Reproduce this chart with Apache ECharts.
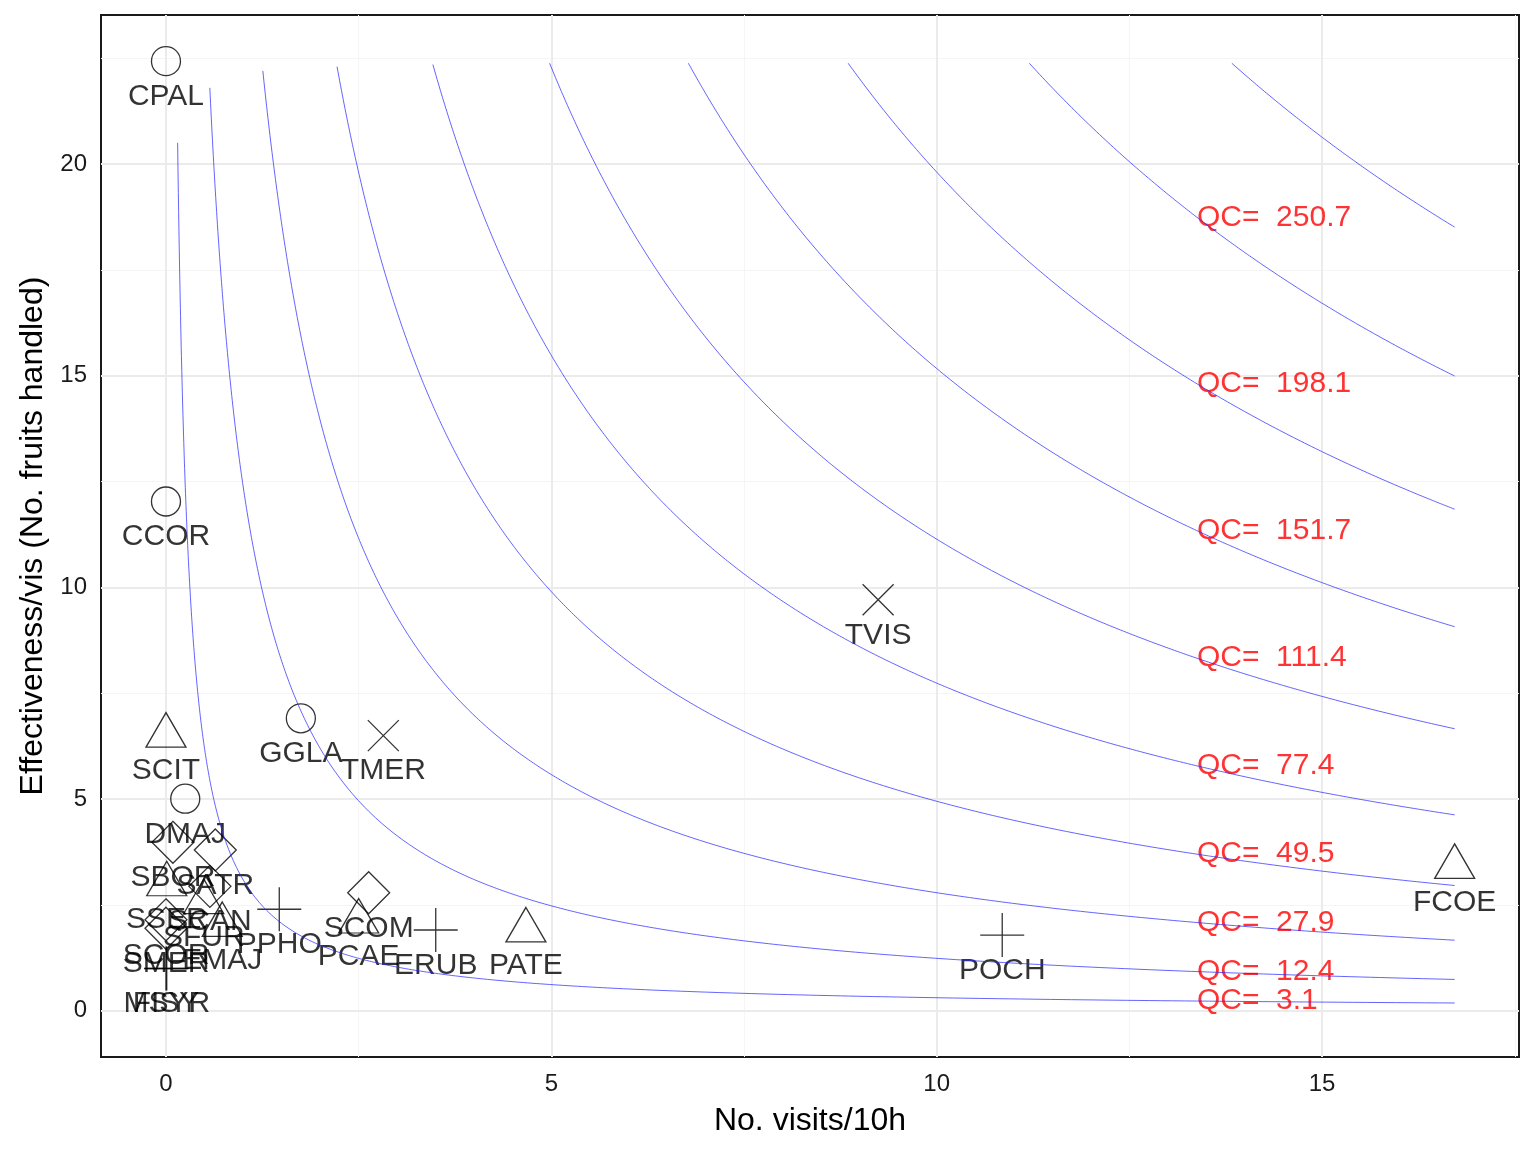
<!DOCTYPE html>
<html><head><meta charset="utf-8">
<script src="https://cdn.jsdelivr.net/npm/echarts@6/dist/echarts.min.js"></script>
<style>html,body{margin:0;padding:0;background:#fff}#c{width:1536px;height:1152px}</style>
</head><body><div id="c"></div><script>
// ---- data ----
const species = ['CPAL','CCOR','SCIT','GGLA','TMER','TVIS','DMAJ','SBOR','SATR','SSER','SCAN','SFUR','PPHO','SCOM','PCAE','ERUB','PATE','POCH','FCOE','SCOR','SMER','EMAJ','MSYR','FISY'];
const visits = [0.0, 0.0, 0.0, 1.75, 2.82, 9.24, 0.25, 0.09, 0.64, 0.01, 0.57, 0.49, 1.47, 2.63, 2.50, 3.50, 4.67, 10.85, 16.72, 0.0, 0.0, 0.73, 0.01, 0.0];
const effectiveness = [22.43, 12.03, 6.50, 6.91, 6.50, 9.71, 5.01, 3.98, 3.80, 2.99, 2.94, 2.57, 2.40, 2.79, 2.11, 1.91, 1.90, 1.79, 3.40, 2.15, 1.95, 2.03, 1.00, 1.00];
const shapes = ['circle','circle','triangle','circle','cross','cross','circle','diamond','diamond','triangle','diamond','triangle','plus','diamond','triangle','plus','triangle','plus','triangle','diamond','diamond','triangle','plus','plus'];
const qcLevels = [3.1, 12.4, 27.9, 49.5, 77.4, 111.4, 151.7, 198.1, 250.7, 309.5];
const curveTop = [20.5, 21.8, 22.2, 22.3, 22.35, 22.38, 22.38, 22.38, 22.38, 22.38];
const qcLabelLevels = [3.1, 12.4, 27.9, 49.5, 77.4, 111.4, 151.7, 198.1, 250.7];
const xTicks = [0, 5, 10, 15];
const yTicks = [0, 5, 10, 15, 20];
const xMinor = [2.5, 7.5, 12.5, 17.5];
const yMinor = [2.5, 7.5, 12.5, 17.5, 22.5];

// ---- derived ----
const xMaxData = Math.max(...visits);
const labelX = 0.8 * xMaxData;
const labelNudge = 0.84;
const FONT = "'Liberation Sans', Arial, sans-serif";

const symbolDefs = {
  circle:   {symbol: 'circle', size: 29, offset: [0, 0]},
  triangle: {symbol: 'triangle', size: [40, 34.5], offset: [0, -5.75]},
  diamond:  {symbol: 'diamond', size: [42, 42], offset: [0, 0]},
  plus:     {symbol: 'path://M0,-1L0,1M-1,0L1,0', size: 44, offset: [0, 0]},
  cross:    {symbol: 'path://M-1,-1L1,1M-1,1L1,-1', size: 31, offset: [0, 0]}
};

const pointData = species.map((s, i) => {
  const d = symbolDefs[shapes[i]];
  return {name: s, value: [visits[i], effectiveness[i]], symbol: d.symbol, symbolSize: d.size, symbolOffset: d.offset};
});
const labelData = species.map((s, i) => ({name: s, value: [visits[i], effectiveness[i] - labelNudge]}));

const curveSeries = qcLevels.map((qc, k) => {
  const x0 = qc / curveTop[k];
  const n = 400;
  const pts = [];
  for (let j = 0; j <= n; j++) {
    const x = x0 * Math.pow(xMaxData / x0, j / n);
    pts.push([x, qc / x]);
  }
  return {
    type: 'line', data: pts, showSymbol: false, symbol: 'none', z: 6, silent: true,
    lineStyle: {color: 'rgba(40,40,255,0.72)', width: 1}, animation: false
  };
});

const gridColorMajor = '#EBEBEB', gridColorMinor = '#F5F5F5';
const gridSeries = {
  type: 'line', data: [], silent: true, z: 1, zlevel: 0, animation: false,
  markLine: {
    silent: true, symbol: 'none', label: {show: false}, animation: false, z: 1,
    data: [
      ...xMinor.map(v => ({xAxis: v, lineStyle: {color: gridColorMinor, width: 1, type: 'solid'}})),
      ...yMinor.map(v => ({yAxis: v, lineStyle: {color: gridColorMinor, width: 1, type: 'solid'}})),
      ...xTicks.map(v => ({xAxis: v, lineStyle: {color: gridColorMajor, width: 2, type: 'solid'}})),
      ...yTicks.map(v => ({yAxis: v, lineStyle: {color: gridColorMajor, width: 2, type: 'solid'}}))
    ]
  }
};

const option = {
  backgroundColor: '#fff',
  animation: false,
  grid: {left: 101, right: 17, top: 15, bottom: 95, show: true, borderColor: '#1a1a1a', borderWidth: 2, backgroundColor: 'transparent'},
  xAxis: {
    type: 'value', min: -0.843, max: 17.555,
    name: 'No. visits/10h', nameLocation: 'middle', nameGap: 48,
    nameTextStyle: {fontSize: 32, color: '#000', fontFamily: FONT},
    axisLine: {show: false},
    splitLine: {show: false},
    axisTick: {show: true, customValues: xTicks, length: 8, lineStyle: {color: '#1a1a1a', width: 2}},
    axisLabel: {customValues: xTicks, fontSize: 24, color: '#1a1a1a', fontFamily: FONT, margin: 15}
  },
  yAxis: {
    type: 'value', min: -1.09, max: 23.52,
    name: 'Effectiveness/vis (No. fruits handled)', nameLocation: 'middle', nameGap: 43,
    nameTextStyle: {fontSize: 32, color: '#000', fontFamily: FONT},
    axisLine: {show: false},
    splitLine: {show: false},
    axisTick: {show: true, customValues: yTicks, length: 8, lineStyle: {color: '#1a1a1a', width: 2}},
    axisLabel: {customValues: yTicks, fontSize: 24, color: '#1a1a1a', fontFamily: FONT, margin: 14}
  },
  series: [
    gridSeries,
    {
      type: 'scatter', data: pointData, z: 3, silent: true,
      itemStyle: {color: 'none', borderColor: '#000', borderWidth: 1.3}
    },
    {
      type: 'scatter', data: labelData, z: 4, silent: true, symbol: 'circle', symbolSize: 1,
      itemStyle: {color: 'rgba(0,0,0,0)'},
      label: {show: true, position: 'inside', formatter: p => p.name, color: '#000', fontSize: 30, fontFamily: FONT, align: 'center', verticalAlign: 'middle'},
      labelLayout: {hideOverlap: false}
    },
    {
      type: 'scatter', z: 4, silent: true, symbol: 'circle', symbolSize: 1,
      data: qcLabelLevels.map(q => ({name: 'QC=  ' + q.toFixed(1), value: [labelX, q / labelX]})),
      itemStyle: {color: 'rgba(0,0,0,0)'},
      label: {show: true, position: 'inside', formatter: p => p.name, color: '#FF0000', fontSize: 30, fontFamily: FONT, align: 'left', verticalAlign: 'middle'},
      labelLayout: {hideOverlap: false}
    },
    ...curveSeries
  ]
};
const chart = echarts.init(document.getElementById('c'), null, {renderer: 'canvas'});
chart.setOption(option);
</script></body></html>
